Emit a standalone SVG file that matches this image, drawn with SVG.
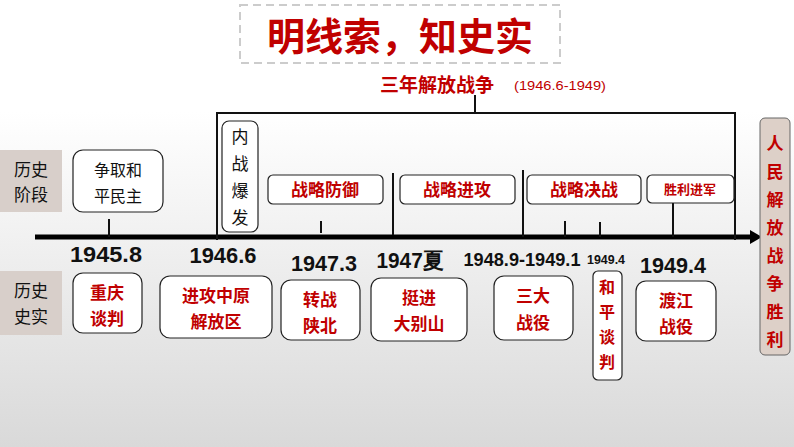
<svg xmlns="http://www.w3.org/2000/svg" width="794" height="447" viewBox="0 0 794 447">
<defs>
<linearGradient id="bg" x1="0" y1="0" x2="0" y2="1"><stop offset="0" stop-color="#ffffff"/><stop offset="0.25" stop-color="#ffffff"/><stop offset="1" stop-color="#d9d9d9"/></linearGradient>
<marker id="ah" markerWidth="12" markerHeight="14" refX="2" refY="7" orient="auto" markerUnits="userSpaceOnUse"><path d="M0,0 L12,7 L0,14 Z" fill="#000"/></marker>
</defs>
<style>
.b{fill:#fff;stroke:#222;stroke-width:1.2}
.r{fill:#c00000;font-family:"Noto Sans CJK SC",sans-serif;font-weight:bold;text-anchor:middle}
.k{fill:#111;font-family:"Noto Sans CJK SC",sans-serif;text-anchor:middle}
.d{fill:#111;font-family:"Liberation Sans",sans-serif;font-weight:bold;text-anchor:middle}
.g{fill:#d8cfca}
.ln{stroke:#111;stroke-width:2;fill:none}
</style>
<rect width="794" height="447" fill="url(#bg)"/>
<g id="title">
<rect x="240" y="5" width="320" height="58" fill="none" stroke="#ccc" stroke-width="2" stroke-dasharray="8,5"/>
<text x="400" y="50" class="r" font-size="38" font-weight="900">明线索，知史实</text>
</g>
<g id="subtitle">
<text x="437" y="92" class="r" font-size="19" font-weight="normal">三年解放战争</text>
<text x="560" y="90" fill="#c00000" font-family="Liberation Sans,sans-serif" font-size="13" text-anchor="middle" textLength="92" lengthAdjust="spacingAndGlyphs">(1946.6-1949)</text>
</g>
<g id="connectors">
<line x1="35" y1="237" x2="752" y2="237" stroke="#000" stroke-width="5" marker-end="url(#ah)"/>
<path class="ln" d="M217,240 V113 H735 V240 M475,113 V95"/>
<path class="ln" d="M109,219 V237 M321,221 V233 M393,173 V235 M523,170 V237 M565,221 V237 M600,222 V237 M673,203 V237"/>
</g>
<g id="labelStage"><rect class="g" x="0" y="150" width="62" height="62"/><text class="k" x="31" y="176" font-size="17">历史</text><text class="k" x="31" y="201" font-size="17">阶段</text></g>
<g id="labelFact"><rect class="g" x="0" y="271" width="62" height="64"/><text class="k" x="31" y="297" font-size="17">历史</text><text class="k" x="31" y="323" font-size="17">史实</text></g>
<g id="n1"><rect class="b" x="73" y="150" width="90" height="62" rx="10"/><text class="k" x="118" y="176" font-size="16">争取和</text><text class="k" x="118" y="202" font-size="16">平民主</text></g>
<g id="n2"><rect class="b" x="222" y="121" width="36" height="111" rx="7"/><text class="k" font-size="17"><tspan x="240" y="143">内</tspan><tspan x="240" y="170">战</tspan><tspan x="240" y="197">爆</tspan><tspan x="240" y="224">发</tspan></text></g>
<g id="n3"><rect class="b" x="268" y="175" width="115" height="29" rx="5"/><text class="r" x="325" y="196" font-size="17">战略防御</text></g>
<g id="n4"><rect class="b" x="400" y="175" width="115" height="29" rx="5"/><text class="r" x="457" y="196" font-size="17">战略进攻</text></g>
<g id="n5"><rect class="b" x="527" y="175" width="114" height="29" rx="5"/><text class="r" x="584" y="196" font-size="17">战略决战</text></g>
<g id="n6"><rect class="b" x="647" y="175" width="87" height="28" rx="5"/><text class="r" x="690" y="194" font-size="13">胜利进军</text></g>
<g id="n7"><rect x="760" y="118" width="30" height="237" rx="5" fill="#ddd0c8" stroke="#666"/><text class="r" font-size="17"><tspan x="775" y="150">人</tspan><tspan x="775" y="178">民</tspan><tspan x="775" y="206">解</tspan><tspan x="775" y="234">放</tspan><tspan x="775" y="262">战</tspan><tspan x="775" y="290">争</tspan><tspan x="775" y="318">胜</tspan><tspan x="775" y="346">利</tspan></text></g>
<g id="dates">
<text class="d" x="106" y="262" font-size="22" textLength="72" lengthAdjust="spacingAndGlyphs">1945.8</text>
<text class="d" x="223" y="263" font-size="22" textLength="67" lengthAdjust="spacingAndGlyphs">1946.6</text>
<text class="d" x="324" y="271" font-size="22" textLength="66" lengthAdjust="spacingAndGlyphs">1947.3</text>
<text class="d" x="410" y="268" font-size="22" textLength="67" lengthAdjust="spacingAndGlyphs">1947夏</text>
<text class="d" x="522" y="266" font-size="18" textLength="117" lengthAdjust="spacingAndGlyphs">1948.9-1949.1</text>
<text class="d" x="606" y="264" font-size="12" textLength="38" lengthAdjust="spacingAndGlyphs">1949.4</text>
<text class="d" x="673" y="273" font-size="22" textLength="66" lengthAdjust="spacingAndGlyphs">1949.4</text>
</g>
<g id="f1"><rect class="b" x="73" y="273" width="69" height="60" rx="10"/><text class="r" x="107" y="299" font-size="17">重庆</text><text class="r" x="107" y="325" font-size="17">谈判</text></g>
<g id="f2"><rect class="b" x="160" y="276" width="112" height="62" rx="10"/><text class="r" x="216" y="302" font-size="17">进攻中原</text><text class="r" x="216" y="328" font-size="17">解放区</text></g>
<g id="f3"><rect class="b" x="281" y="280" width="79" height="60" rx="10"/><text class="r" x="320" y="306" font-size="17">转战</text><text class="r" x="320" y="332" font-size="17">陕北</text></g>
<g id="f4"><rect class="b" x="371" y="278" width="96" height="63" rx="10"/><text class="r" x="419" y="304" font-size="17">挺进</text><text class="r" x="419" y="330" font-size="17">大别山</text></g>
<g id="f5"><rect class="b" x="494" y="276" width="79" height="64" rx="10"/><text class="r" x="533" y="302" font-size="17">三大</text><text class="r" x="533" y="329" font-size="17">战役</text></g>
<g id="f6"><rect class="b" x="593" y="271" width="29" height="109" rx="5"/><text class="r" font-size="16"><tspan x="607" y="293">和</tspan><tspan x="607" y="318">平</tspan><tspan x="607" y="343">谈</tspan><tspan x="607" y="368">判</tspan></text></g>
<g id="f7"><rect class="b" x="636" y="281" width="80" height="60" rx="10"/><text class="r" x="676" y="307" font-size="17">渡江</text><text class="r" x="676" y="333" font-size="17">战役</text></g>
</svg>
